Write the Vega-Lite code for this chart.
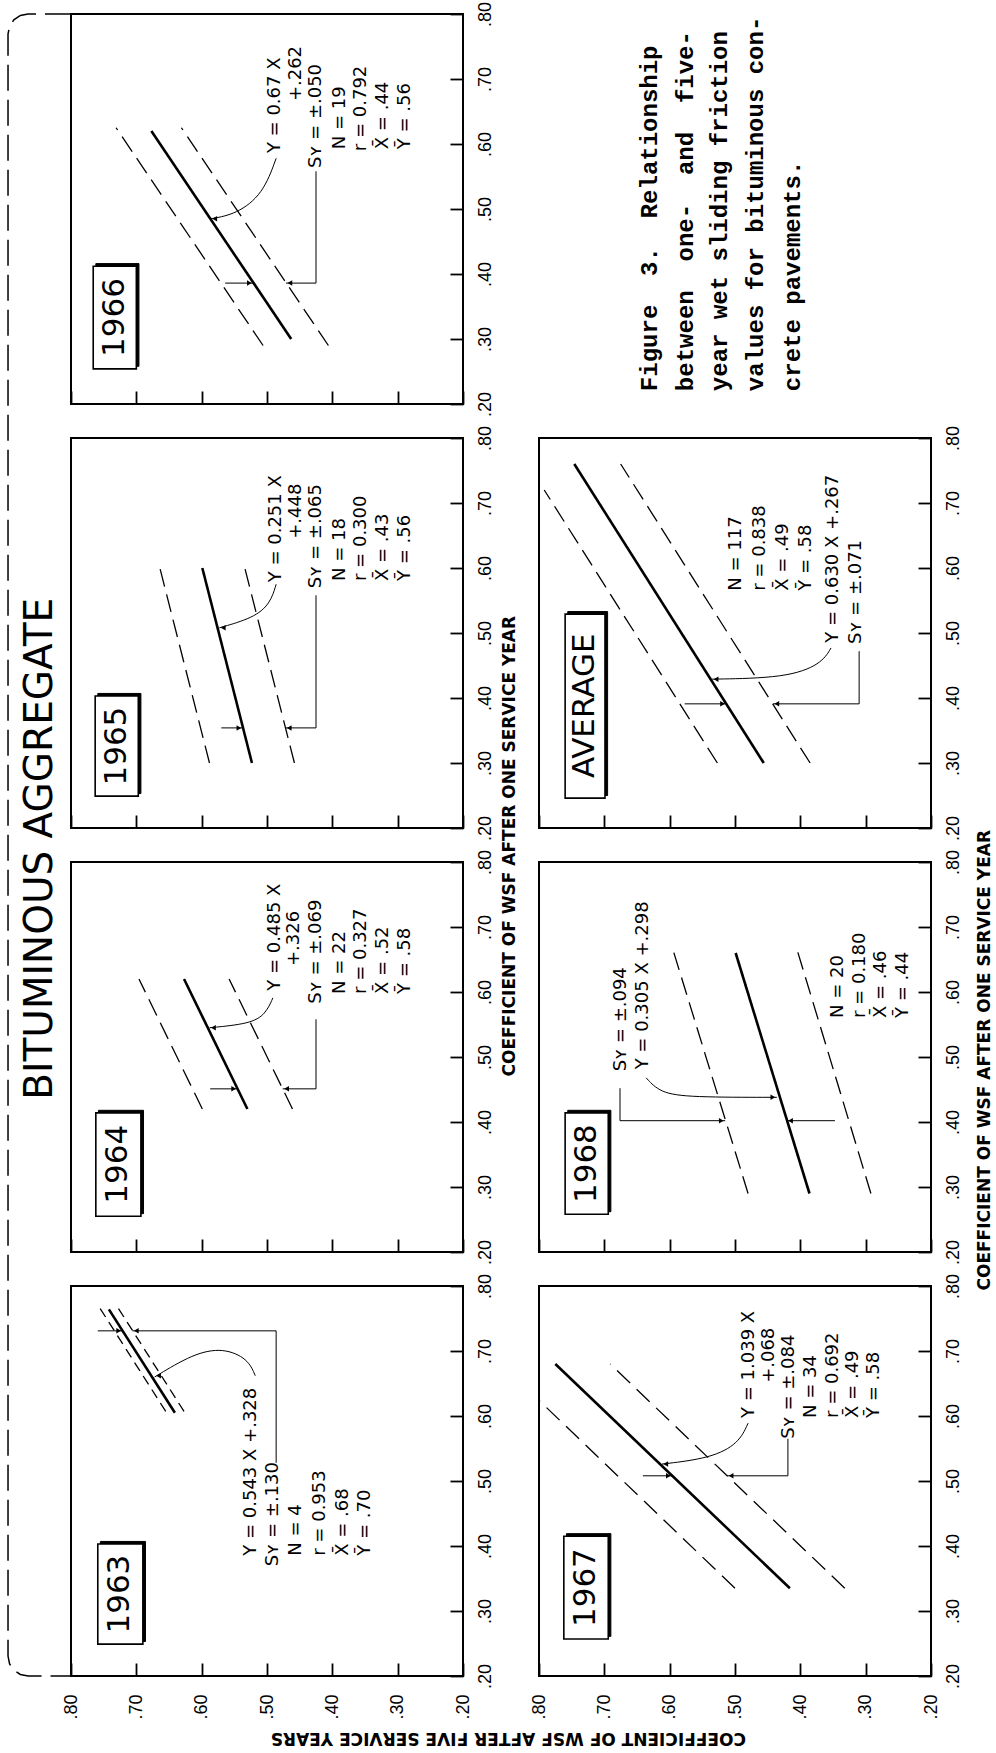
{
"$schema":"https://vega.github.io/schema/vega-lite/v6.json",
"padding":{"left":4,"top":0,"right":0,"bottom":0},
"columns":2,
"spacing":{"row":34,"column":76},
"bounds":"flush",
"datasets":{
"cap":[
{"t":"Figure\u00a0\u00a03.\u00a0\u00a0Relationship","cx":0.283,"cy":0.033},
{"t":"between\u00a0\u00a0one-\u00a0\u00a0and\u00a0\u00a0five-","cx":0.375,"cy":0.033},
{"t":"year wet sliding friction","cx":0.462,"cy":0.033},
{"t":"values for bituminous con-","cx":0.554,"cy":0.033},
{"t":"crete pavements.","cx":0.648,"cy":0.033}
],
"d":[
{"p":"1966","k":"fit","s":"f","i":0,"O":0.30,"F":0.463},
{"p":"1966","k":"fit","s":"f","i":1,"O":0.62,"F":0.677},
{"p":"1966","k":"dash","s":"hi","i":0,"O":0.29,"F":0.506},
{"p":"1966","k":"dash","s":"hi","i":1,"O":0.625,"F":0.731},
{"p":"1966","k":"dash","s":"lo","i":0,"O":0.29,"F":0.406},
{"p":"1966","k":"dash","s":"lo","i":1,"O":0.625,"F":0.631},
{"p":"1966","k":"curve","i":0,"F":0.486,"O":0.578},
{"p":"1966","k":"curve","i":1,"F":0.506,"O":0.523},
{"p":"1966","k":"curve","i":2,"F":0.547,"O":0.492},
{"p":"1966","k":"curve","i":3,"F":0.586,"O":0.485},
{"p":"1966","k":"thin","s":"br","i":0,"F":0.425,"O":0.558},
{"p":"1966","k":"thin","s":"br","i":1,"F":0.425,"O":0.386},
{"p":"1966","k":"thin","s":"br","i":2,"F":0.471,"O":0.386},
{"p":"1966","k":"thin","s":"ar","i":0,"F":0.564,"O":0.386},
{"p":"1966","k":"thin","s":"ar","i":1,"F":0.521,"O":0.386},
{"p":"1966","k":"ah","sh":"triangle-left","F":0.580,"O":0.485},
{"p":"1966","k":"ah","sh":"triangle-left","F":0.465,"O":0.386},
{"p":"1966","k":"ah","sh":"triangle-right","F":0.527,"O":0.386},
{"p":"1966","k":"shd","F":0.762,"F2":0.696,"O":0.416,"O2":0.258},
{"p":"1966","k":"box","F":0.766,"F2":0.700,"O":0.412,"O2":0.254},
{"p":"1966","k":"yr","t":"1966","F":0.733,"O":0.333},
{"p":"1966","k":"txt","t":"Y = 0.67 X","F":0.488,"O":0.586},
{"p":"1966","k":"txt","t":"+.262","F":0.456,"O":0.666},
{"p":"1966","k":"txt","t":"Sʏ = ±.050","F":0.425,"O":0.563},
{"p":"1966","k":"txt","t":"N = 19","F":0.388,"O":0.592},
{"p":"1966","k":"txt","t":"r = 0.792","F":0.356,"O":0.589},
{"p":"1966","k":"txt","t":"X̄ = .44","F":0.322,"O":0.592},
{"p":"1966","k":"txt","t":"Ȳ = .56","F":0.289,"O":0.592},
{"p":"1966","k":"brk","i":0,"F":0.800,"O":0.800},
{"p":"1966","k":"brk","i":1,"F":0.8658,"O":0.800},
{"p":"1966","k":"brk","i":2,"F":0.8775,"O":0.7977},
{"p":"1966","k":"brk","i":3,"F":0.8875,"O":0.7910},
{"p":"1966","k":"brk","i":4,"F":0.8941,"O":0.7810},
{"p":"1966","k":"brk","i":5,"F":0.8964,"O":0.7692},
{"p":"1966","k":"brk","i":6,"F":0.8964,"O":-1.7262},
{"p":"1966","k":"brk","i":7,"F":0.8941,"O":-1.7380},
{"p":"1966","k":"brk","i":8,"F":0.8875,"O":-1.7480},
{"p":"1966","k":"brk","i":9,"F":0.8775,"O":-1.7546},
{"p":"1966","k":"brk","i":10,"F":0.8658,"O":-1.7569},
{"p":"1966","k":"brk","i":11,"F":0.800,"O":-1.7569},

{"p":"1965","k":"fit","s":"f","i":0,"O":0.30,"F":0.523},
{"p":"1965","k":"fit","s":"f","i":1,"O":0.60,"F":0.599},
{"p":"1965","k":"dash","s":"hi","i":0,"O":0.30,"F":0.588},
{"p":"1965","k":"dash","s":"hi","i":1,"O":0.60,"F":0.664},
{"p":"1965","k":"dash","s":"lo","i":0,"O":0.30,"F":0.458},
{"p":"1965","k":"dash","s":"lo","i":1,"O":0.60,"F":0.534},
{"p":"1965","k":"curve","i":0,"F":0.486,"O":0.575},
{"p":"1965","k":"curve","i":1,"F":0.495,"O":0.545},
{"p":"1965","k":"curve","i":2,"F":0.521,"O":0.523},
{"p":"1965","k":"curve","i":3,"F":0.573,"O":0.508},
{"p":"1965","k":"thin","s":"br","i":0,"F":0.425,"O":0.558},
{"p":"1965","k":"thin","s":"br","i":1,"F":0.425,"O":0.354},
{"p":"1965","k":"thin","s":"br","i":2,"F":0.472,"O":0.354},
{"p":"1965","k":"thin","s":"ar","i":0,"F":0.570,"O":0.354},
{"p":"1965","k":"thin","s":"ar","i":1,"F":0.537,"O":0.354},
{"p":"1965","k":"ah","sh":"triangle-left","F":0.567,"O":0.508},
{"p":"1965","k":"ah","sh":"triangle-left","F":0.466,"O":0.354},
{"p":"1965","k":"ah","sh":"triangle-right","F":0.543,"O":0.354},
{"p":"1965","k":"shd","F":0.759,"F2":0.693,"O":0.407,"O2":0.253},
{"p":"1965","k":"box","F":0.763,"F2":0.697,"O":0.403,"O2":0.249},
{"p":"1965","k":"yr","t":"1965","F":0.730,"O":0.326},
{"p":"1965","k":"txt","t":"Y = 0.251 X","F":0.486,"O":0.578},
{"p":"1965","k":"txt","t":"+.448","F":0.456,"O":0.645},
{"p":"1965","k":"txt","t":"Sʏ = ±.065","F":0.425,"O":0.569},
{"p":"1965","k":"txt","t":"N = 18","F":0.388,"O":0.580},
{"p":"1965","k":"txt","t":"r = 0.300","F":0.356,"O":0.580},
{"p":"1965","k":"txt","t":"X̄ = .43","F":0.322,"O":0.580},
{"p":"1965","k":"txt","t":"Ȳ = .56","F":0.289,"O":0.580},
{"p":"1965","k":"big","t":"BITUMINOUS AGGREGATE","F":0.847,"O":0.168},
{"p":"1965","k":"ttl","t":"COEFFICIENT OF WSF AFTER ONE SERVICE YEAR","F":0.128,"O":0.172},

{"p":"1964","k":"fit","s":"f","i":0,"O":0.42,"F":0.530},
{"p":"1964","k":"fit","s":"f","i":1,"O":0.62,"F":0.627},
{"p":"1964","k":"dash","s":"hi","i":0,"O":0.42,"F":0.599},
{"p":"1964","k":"dash","s":"hi","i":1,"O":0.62,"F":0.696},
{"p":"1964","k":"dash","s":"lo","i":0,"O":0.42,"F":0.461},
{"p":"1964","k":"dash","s":"lo","i":1,"O":0.62,"F":0.558},
{"p":"1964","k":"curve","i":0,"F":0.491,"O":0.591},
{"p":"1964","k":"curve","i":1,"F":0.502,"O":0.566},
{"p":"1964","k":"curve","i":2,"F":0.526,"O":0.551},
{"p":"1964","k":"curve","i":3,"F":0.588,"O":0.545},
{"p":"1964","k":"thin","s":"br","i":0,"F":0.425,"O":0.558},
{"p":"1964","k":"thin","s":"br","i":1,"F":0.425,"O":0.451},
{"p":"1964","k":"thin","s":"br","i":2,"F":0.476,"O":0.451},
{"p":"1964","k":"thin","s":"ar","i":0,"F":0.587,"O":0.451},
{"p":"1964","k":"thin","s":"ar","i":1,"F":0.545,"O":0.451},
{"p":"1964","k":"ah","sh":"triangle-left","F":0.582,"O":0.545},
{"p":"1964","k":"ah","sh":"triangle-left","F":0.470,"O":0.451},
{"p":"1964","k":"ah","sh":"triangle-right","F":0.551,"O":0.451},
{"p":"1964","k":"shd","F":0.758,"F2":0.689,"O":0.418,"O2":0.259},
{"p":"1964","k":"box","F":0.762,"F2":0.693,"O":0.414,"O2":0.255},
{"p":"1964","k":"yr","t":"1964","F":0.728,"O":0.335},
{"p":"1964","k":"txt","t":"Y = 0.485 X","F":0.488,"O":0.602},
{"p":"1964","k":"txt","t":"+.326","F":0.458,"O":0.640},
{"p":"1964","k":"txt","t":"Sʏ = ±.069","F":0.425,"O":0.582},
{"p":"1964","k":"txt","t":"N = 22","F":0.388,"O":0.597},
{"p":"1964","k":"txt","t":"r = 0.327","F":0.356,"O":0.597},
{"p":"1964","k":"txt","t":"X̄ = .52","F":0.322,"O":0.597},
{"p":"1964","k":"txt","t":"Ȳ = .58","F":0.289,"O":0.597},

{"p":"1963","k":"fit","s":"f","i":0,"O":0.605,"F":0.641},
{"p":"1963","k":"fit","s":"f","i":1,"O":0.764,"F":0.742},
{"p":"1963","k":"dash","s":"hi","i":0,"O":0.607,"F":0.655},
{"p":"1963","k":"dash","s":"hi","i":1,"O":0.768,"F":0.757},
{"p":"1963","k":"dash","s":"lo","i":0,"O":0.607,"F":0.627},
{"p":"1963","k":"dash","s":"lo","i":1,"O":0.768,"F":0.729},
{"p":"1963","k":"curve","i":0,"F":0.518,"O":0.662},
{"p":"1963","k":"curve","i":1,"F":0.529,"O":0.688},
{"p":"1963","k":"curve","i":2,"F":0.567,"O":0.705},
{"p":"1963","k":"curve","i":3,"F":0.613,"O":0.696},
{"p":"1963","k":"curve","i":4,"F":0.672,"O":0.660},
{"p":"1963","k":"thin","s":"br","i":0,"F":0.486,"O":0.528},
{"p":"1963","k":"thin","s":"br","i":1,"F":0.486,"O":0.731},
{"p":"1963","k":"thin","s":"br","i":2,"F":0.706,"O":0.731},
{"p":"1963","k":"thin","s":"ar","i":0,"F":0.759,"O":0.731},
{"p":"1963","k":"thin","s":"ar","i":1,"F":0.721,"O":0.731},
{"p":"1963","k":"ah","sh":"triangle-left","F":0.666,"O":0.662},
{"p":"1963","k":"ah","sh":"triangle-left","F":0.700,"O":0.731},
{"p":"1963","k":"ah","sh":"triangle-right","F":0.727,"O":0.731},
{"p":"1963","k":"shd","F":0.755,"F2":0.686,"O":0.407,"O2":0.253},
{"p":"1963","k":"box","F":0.759,"F2":0.690,"O":0.403,"O2":0.249},
{"p":"1963","k":"yr","t":"1963","F":0.725,"O":0.326},
{"p":"1963","k":"txt","t":"Y = 0.543 X +.328","F":0.524,"O":0.385},
{"p":"1963","k":"txt","t":"Sʏ = ±.130","F":0.491,"O":0.369},
{"p":"1963","k":"txt","t":"N = 4","F":0.456,"O":0.385},
{"p":"1963","k":"txt","t":"r = 0.953","F":0.419,"O":0.385},
{"p":"1963","k":"txt","t":"X̄ = .68","F":0.384,"O":0.385},
{"p":"1963","k":"txt","t":"Ȳ = .70","F":0.350,"O":0.385},

{"p":"AVERAGE","k":"fit","s":"f","i":0,"O":0.30,"F":0.456},
{"p":"AVERAGE","k":"fit","s":"f","i":1,"O":0.76,"F":0.746},
{"p":"AVERAGE","k":"dash","s":"hi","i":0,"O":0.30,"F":0.527},
{"p":"AVERAGE","k":"dash","s":"hi","i":1,"O":0.72,"F":0.792},
{"p":"AVERAGE","k":"dash","s":"lo","i":0,"O":0.30,"F":0.385},
{"p":"AVERAGE","k":"dash","s":"lo","i":1,"O":0.76,"F":0.675},
{"p":"AVERAGE","k":"curve","i":0,"F":0.353,"O":0.477},
{"p":"AVERAGE","k":"curve","i":1,"F":0.368,"O":0.452},
{"p":"AVERAGE","k":"curve","i":2,"F":0.422,"O":0.431},
{"p":"AVERAGE","k":"curve","i":3,"F":0.535,"O":0.429},
{"p":"AVERAGE","k":"thin","s":"br","i":0,"F":0.310,"O":0.472},
{"p":"AVERAGE","k":"thin","s":"br","i":1,"F":0.310,"O":0.391},
{"p":"AVERAGE","k":"thin","s":"br","i":2,"F":0.442,"O":0.391},
{"p":"AVERAGE","k":"thin","s":"ar","i":0,"F":0.577,"O":0.391},
{"p":"AVERAGE","k":"thin","s":"ar","i":1,"F":0.513,"O":0.391},
{"p":"AVERAGE","k":"ah","sh":"triangle-left","F":0.529,"O":0.429},
{"p":"AVERAGE","k":"ah","sh":"triangle-left","F":0.436,"O":0.391},
{"p":"AVERAGE","k":"ah","sh":"triangle-right","F":0.519,"O":0.391},
{"p":"AVERAGE","k":"shd","F":0.756,"F2":0.695,"O":0.533,"O2":0.250},
{"p":"AVERAGE","k":"box","F":0.760,"F2":0.699,"O":0.529,"O2":0.246},
{"p":"AVERAGE","k":"yr","t":"AVERAGE","F":0.730,"O":0.388},
{"p":"AVERAGE","k":"txt","t":"N = 117","F":0.498,"O":0.565},
{"p":"AVERAGE","k":"txt","t":"r = 0.838","F":0.462,"O":0.565},
{"p":"AVERAGE","k":"txt","t":"X̄ = .49","F":0.426,"O":0.565},
{"p":"AVERAGE","k":"txt","t":"Ȳ = .58","F":0.391,"O":0.565},
{"p":"AVERAGE","k":"txt","t":"Y = 0.630 X +.267","F":0.350,"O":0.485},
{"p":"AVERAGE","k":"txt","t":"Sʏ = ±.071","F":0.315,"O":0.483},

{"p":"1968","k":"fit","s":"f","i":0,"O":0.29,"F":0.386},
{"p":"1968","k":"fit","s":"f","i":1,"O":0.66,"F":0.499},
{"p":"1968","k":"dash","s":"hi","i":0,"O":0.29,"F":0.480},
{"p":"1968","k":"dash","s":"hi","i":1,"O":0.665,"F":0.595},
{"p":"1968","k":"dash","s":"lo","i":0,"O":0.29,"F":0.292},
{"p":"1968","k":"dash","s":"lo","i":1,"O":0.665,"F":0.405},
{"p":"1968","k":"curve","i":0,"F":0.636,"O":0.468},
{"p":"1968","k":"curve","i":1,"F":0.615,"O":0.445},
{"p":"1968","k":"curve","i":2,"F":0.569,"O":0.438},
{"p":"1968","k":"curve","i":3,"F":0.436,"O":0.438},
{"p":"1968","k":"thin","s":"br","i":0,"F":0.676,"O":0.452},
{"p":"1968","k":"thin","s":"br","i":1,"F":0.676,"O":0.402},
{"p":"1968","k":"thin","s":"br","i":2,"F":0.515,"O":0.402},
{"p":"1968","k":"thin","s":"ar","i":0,"F":0.347,"O":0.402},
{"p":"1968","k":"thin","s":"ar","i":1,"F":0.421,"O":0.402},
{"p":"1968","k":"ah","sh":"triangle-right","F":0.442,"O":0.438},
{"p":"1968","k":"ah","sh":"triangle-right","F":0.521,"O":0.402},
{"p":"1968","k":"ah","sh":"triangle-left","F":0.415,"O":0.402},
{"p":"1968","k":"shd","F":0.756,"F2":0.690,"O":0.418,"O2":0.262},
{"p":"1968","k":"box","F":0.760,"F2":0.694,"O":0.414,"O2":0.258},
{"p":"1968","k":"yr","t":"1968","F":0.727,"O":0.336},
{"p":"1968","k":"txt","t":"Sʏ = ±.094","F":0.674,"O":0.478},
{"p":"1968","k":"txt","t":"Y = 0.305 X +.298","F":0.641,"O":0.481},
{"p":"1968","k":"txt","t":"N = 20","F":0.342,"O":0.560},
{"p":"1968","k":"txt","t":"r = 0.180","F":0.309,"O":0.560},
{"p":"1968","k":"txt","t":"X̄ = .46","F":0.277,"O":0.560},
{"p":"1968","k":"txt","t":"Ȳ = .44","F":0.243,"O":0.560},
{"p":"1968","k":"ttl","t":"COEFFICIENT OF WSF AFTER ONE SERVICE YEAR","F":0.117,"O":0.495},

{"p":"1967","k":"fit","s":"f","i":0,"O":0.335,"F":0.416},
{"p":"1967","k":"fit","s":"f","i":1,"O":0.68,"F":0.775},
{"p":"1967","k":"dash","s":"hi","i":0,"O":0.335,"F":0.500},
{"p":"1967","k":"dash","s":"hi","i":1,"O":0.624,"F":0.800},
{"p":"1967","k":"dash","s":"lo","i":0,"O":0.335,"F":0.332},
{"p":"1967","k":"dash","s":"lo","i":1,"O":0.68,"F":0.691},
{"p":"1967","k":"curve","i":0,"F":0.480,"O":0.589},
{"p":"1967","k":"curve","i":1,"F":0.494,"O":0.558},
{"p":"1967","k":"curve","i":2,"F":0.537,"O":0.535},
{"p":"1967","k":"curve","i":3,"F":0.612,"O":0.526},
{"p":"1967","k":"thin","s":"br","i":0,"F":0.419,"O":0.565},
{"p":"1967","k":"thin","s":"br","i":1,"F":0.419,"O":0.508},
{"p":"1967","k":"thin","s":"br","i":2,"F":0.512,"O":0.508},
{"p":"1967","k":"thin","s":"ar","i":0,"F":0.641,"O":0.508},
{"p":"1967","k":"thin","s":"ar","i":1,"F":0.596,"O":0.508},
{"p":"1967","k":"ah","sh":"triangle-left","F":0.606,"O":0.526},
{"p":"1967","k":"ah","sh":"triangle-left","F":0.506,"O":0.508},
{"p":"1967","k":"ah","sh":"triangle-right","F":0.602,"O":0.508},
{"p":"1967","k":"shd","F":0.758,"F2":0.690,"O":0.419,"O2":0.261},
{"p":"1967","k":"box","F":0.762,"F2":0.694,"O":0.415,"O2":0.257},
{"p":"1967","k":"yr","t":"1967","F":0.728,"O":0.336},
{"p":"1967","k":"txt","t":"Y = 1.039 X","F":0.479,"O":0.597},
{"p":"1967","k":"txt","t":"+.068","F":0.448,"O":0.651},
{"p":"1967","k":"txt","t":"Sʏ = ±.084","F":0.417,"O":0.565},
{"p":"1967","k":"txt","t":"N = 34","F":0.384,"O":0.597},
{"p":"1967","k":"txt","t":"r = 0.692","F":0.350,"O":0.597},
{"p":"1967","k":"txt","t":"X̄ = .49","F":0.319,"O":0.597},
{"p":"1967","k":"txt","t":"Ȳ = .58","F":0.287,"O":0.597},
{"p":"1967","k":"ttl180","t":"COEFFICIENT OF WSF AFTER FIVE SERVICE YEARS","F":0.847,"O":0.105}
]
},
"concat":[
{"width":392,"height":390,"data":{"name":"d"},"transform":[{"filter":"datum.p=='1966'"}],
 "encoding":{"x":{"field":"F","type":"quantitative","scale":{"domain":[0.2,0.8],"reverse":true,"nice":false,"zero":false},"axis":{"values":[0.2,0.3,0.4,0.5,0.6,0.7,0.8],"labels":false,"title":null}},
  "y":{"field":"O","type":"quantitative","scale":{"domain":[0.2,0.8],"nice":false,"zero":false},"axis":{"orient":"right","values":[0.2,0.3,0.4,0.5,0.6,0.7,0.8],"title":null,"labelExpr":"replace(format(datum.value,'.2f'),'0.','.')"}}},
 "layer":[
  {"transform":[{"filter":"datum.k=='brk'"}],"mark":{"type":"line","color":"black","strokeWidth":1.5,"strokeDash":[26,9]},"encoding":{"order":{"field":"i"}}},
  {"transform":[{"filter":"datum.k=='fit'"}],"mark":{"type":"line","color":"black","strokeWidth":2.6},"encoding":{"detail":{"field":"s"},"order":{"field":"i"}}},
  {"transform":[{"filter":"datum.k=='dash'"}],"mark":{"type":"line","color":"black","strokeWidth":1.3,"strokeDash":[18,8]},"encoding":{"detail":{"field":"s"},"order":{"field":"i"}}},
  {"transform":[{"filter":"datum.k=='curve'"}],"mark":{"type":"line","color":"black","strokeWidth":1,"interpolate":"basis"},"encoding":{"order":{"field":"i"}}},
  {"transform":[{"filter":"datum.k=='thin'"}],"mark":{"type":"line","color":"black","strokeWidth":1},"encoding":{"detail":{"field":"s"},"order":{"field":"i"}}},
  {"transform":[{"filter":"datum.k=='ah'"}],"mark":{"type":"point","filled":true,"color":"black","opacity":1,"size":30},"encoding":{"shape":{"field":"sh","type":"nominal","scale":null}}},
  {"transform":[{"filter":"datum.k=='shd'"}],"mark":{"type":"rect","fill":"black","stroke":"black","strokeWidth":1}, "encoding":{"x2":{"field":"F2"},"y2":{"field":"O2"}}},
  {"transform":[{"filter":"datum.k=='box'"}],"mark":{"type":"rect","fill":"white","stroke":"black","strokeWidth":1.6},"encoding":{"x2":{"field":"F2"},"y2":{"field":"O2"}}},
  {"transform":[{"filter":"datum.k=='yr'"}],"mark":{"type":"text","color":"black","angle":270,"fontSize":31,"font":"DejaVu Sans","align":"center","baseline":"middle"},"encoding":{"text":{"field":"t"}}},
  {"transform":[{"filter":"datum.k=='txt'"}],"mark":{"type":"text","color":"black","angle":270,"fontSize":18,"font":"DejaVu Sans","align":"left","baseline":"middle"},"encoding":{"text":{"field":"t"}}}
 ]},
{"width":392,"height":390,"view":{"stroke":null},"data":{"name":"cap"},
 "mark":{"type":"text","color":"black","angle":270,"align":"left","baseline":"middle","font":"Liberation Mono","fontWeight":"bold","fontSize":24},
 "encoding":{"x":{"field":"cx","type":"quantitative","scale":{"domain":[0,1]},"axis":null},"y":{"field":"cy","type":"quantitative","scale":{"domain":[0,1]},"axis":null},"text":{"field":"t"}}},
{"width":392,"height":390,"data":{"name":"d"},"transform":[{"filter":"datum.p=='1965'"}],
 "encoding":{"x":{"field":"F","type":"quantitative","scale":{"domain":[0.2,0.8],"reverse":true,"nice":false,"zero":false},"axis":{"values":[0.2,0.3,0.4,0.5,0.6,0.7,0.8],"labels":false,"title":null}},
  "y":{"field":"O","type":"quantitative","scale":{"domain":[0.2,0.8],"nice":false,"zero":false},"axis":{"orient":"right","values":[0.2,0.3,0.4,0.5,0.6,0.7,0.8],"title":null,"labelExpr":"replace(format(datum.value,'.2f'),'0.','.')"}}},
 "layer":[
  {"transform":[{"filter":"datum.k=='fit'"}],"mark":{"type":"line","color":"black","strokeWidth":2.6},"encoding":{"detail":{"field":"s"},"order":{"field":"i"}}},
  {"transform":[{"filter":"datum.k=='dash'"}],"mark":{"type":"line","color":"black","strokeWidth":1.3,"strokeDash":[18,8]},"encoding":{"detail":{"field":"s"},"order":{"field":"i"}}},
  {"transform":[{"filter":"datum.k=='curve'"}],"mark":{"type":"line","color":"black","strokeWidth":1,"interpolate":"basis"},"encoding":{"order":{"field":"i"}}},
  {"transform":[{"filter":"datum.k=='thin'"}],"mark":{"type":"line","color":"black","strokeWidth":1},"encoding":{"detail":{"field":"s"},"order":{"field":"i"}}},
  {"transform":[{"filter":"datum.k=='ah'"}],"mark":{"type":"point","filled":true,"color":"black","opacity":1,"size":30},"encoding":{"shape":{"field":"sh","type":"nominal","scale":null}}},
  {"transform":[{"filter":"datum.k=='shd'"}],"mark":{"type":"rect","fill":"black","stroke":"black","strokeWidth":1}, "encoding":{"x2":{"field":"F2"},"y2":{"field":"O2"}}},
  {"transform":[{"filter":"datum.k=='box'"}],"mark":{"type":"rect","fill":"white","stroke":"black","strokeWidth":1.6},"encoding":{"x2":{"field":"F2"},"y2":{"field":"O2"}}},
  {"transform":[{"filter":"datum.k=='yr'"}],"mark":{"type":"text","color":"black","angle":270,"fontSize":31,"font":"DejaVu Sans","align":"center","baseline":"middle"},"encoding":{"text":{"field":"t"}}},
  {"transform":[{"filter":"datum.k=='txt'"}],"mark":{"type":"text","color":"black","angle":270,"fontSize":18,"font":"DejaVu Sans","align":"left","baseline":"middle"},"encoding":{"text":{"field":"t"}}},
  {"transform":[{"filter":"datum.k=='big'"}],"mark":{"type":"text","color":"black","angle":270,"fontSize":39,"font":"DejaVu Sans","align":"center","baseline":"middle"},"encoding":{"text":{"field":"t"}}},
  {"transform":[{"filter":"datum.k=='ttl'"}],"mark":{"type":"text","color":"black","angle":270,"fontSize":17,"fontWeight":"bold","font":"DejaVu Sans","align":"center","baseline":"middle"},"encoding":{"text":{"field":"t"}}}
 ]},
{"width":392,"height":390,"data":{"name":"d"},"transform":[{"filter":"datum.p=='AVERAGE'"}],
 "encoding":{"x":{"field":"F","type":"quantitative","scale":{"domain":[0.2,0.8],"reverse":true,"nice":false,"zero":false},"axis":{"values":[0.2,0.3,0.4,0.5,0.6,0.7,0.8],"labels":false,"title":null}},
  "y":{"field":"O","type":"quantitative","scale":{"domain":[0.2,0.8],"nice":false,"zero":false},"axis":{"orient":"right","values":[0.2,0.3,0.4,0.5,0.6,0.7,0.8],"title":null,"labelExpr":"replace(format(datum.value,'.2f'),'0.','.')"}}},
 "layer":[
  {"transform":[{"filter":"datum.k=='fit'"}],"mark":{"type":"line","color":"black","strokeWidth":2.6},"encoding":{"detail":{"field":"s"},"order":{"field":"i"}}},
  {"transform":[{"filter":"datum.k=='dash'"}],"mark":{"type":"line","color":"black","strokeWidth":1.3,"strokeDash":[18,8]},"encoding":{"detail":{"field":"s"},"order":{"field":"i"}}},
  {"transform":[{"filter":"datum.k=='curve'"}],"mark":{"type":"line","color":"black","strokeWidth":1,"interpolate":"basis"},"encoding":{"order":{"field":"i"}}},
  {"transform":[{"filter":"datum.k=='thin'"}],"mark":{"type":"line","color":"black","strokeWidth":1},"encoding":{"detail":{"field":"s"},"order":{"field":"i"}}},
  {"transform":[{"filter":"datum.k=='ah'"}],"mark":{"type":"point","filled":true,"color":"black","opacity":1,"size":30},"encoding":{"shape":{"field":"sh","type":"nominal","scale":null}}},
  {"transform":[{"filter":"datum.k=='shd'"}],"mark":{"type":"rect","fill":"black","stroke":"black","strokeWidth":1}, "encoding":{"x2":{"field":"F2"},"y2":{"field":"O2"}}},
  {"transform":[{"filter":"datum.k=='box'"}],"mark":{"type":"rect","fill":"white","stroke":"black","strokeWidth":1.6},"encoding":{"x2":{"field":"F2"},"y2":{"field":"O2"}}},
  {"transform":[{"filter":"datum.k=='yr'"}],"mark":{"type":"text","color":"black","angle":270,"fontSize":31,"font":"DejaVu Sans","align":"center","baseline":"middle"},"encoding":{"text":{"field":"t"}}},
  {"transform":[{"filter":"datum.k=='txt'"}],"mark":{"type":"text","color":"black","angle":270,"fontSize":18,"font":"DejaVu Sans","align":"left","baseline":"middle"},"encoding":{"text":{"field":"t"}}}
 ]},
{"width":392,"height":390,"data":{"name":"d"},"transform":[{"filter":"datum.p=='1964'"}],
 "encoding":{"x":{"field":"F","type":"quantitative","scale":{"domain":[0.2,0.8],"reverse":true,"nice":false,"zero":false},"axis":{"values":[0.2,0.3,0.4,0.5,0.6,0.7,0.8],"labels":false,"title":null}},
  "y":{"field":"O","type":"quantitative","scale":{"domain":[0.2,0.8],"nice":false,"zero":false},"axis":{"orient":"right","values":[0.2,0.3,0.4,0.5,0.6,0.7,0.8],"title":null,"labelExpr":"replace(format(datum.value,'.2f'),'0.','.')"}}},
 "layer":[
  {"transform":[{"filter":"datum.k=='fit'"}],"mark":{"type":"line","color":"black","strokeWidth":2.6},"encoding":{"detail":{"field":"s"},"order":{"field":"i"}}},
  {"transform":[{"filter":"datum.k=='dash'"}],"mark":{"type":"line","color":"black","strokeWidth":1.3,"strokeDash":[18,8]},"encoding":{"detail":{"field":"s"},"order":{"field":"i"}}},
  {"transform":[{"filter":"datum.k=='curve'"}],"mark":{"type":"line","color":"black","strokeWidth":1,"interpolate":"basis"},"encoding":{"order":{"field":"i"}}},
  {"transform":[{"filter":"datum.k=='thin'"}],"mark":{"type":"line","color":"black","strokeWidth":1},"encoding":{"detail":{"field":"s"},"order":{"field":"i"}}},
  {"transform":[{"filter":"datum.k=='ah'"}],"mark":{"type":"point","filled":true,"color":"black","opacity":1,"size":30},"encoding":{"shape":{"field":"sh","type":"nominal","scale":null}}},
  {"transform":[{"filter":"datum.k=='shd'"}],"mark":{"type":"rect","fill":"black","stroke":"black","strokeWidth":1}, "encoding":{"x2":{"field":"F2"},"y2":{"field":"O2"}}},
  {"transform":[{"filter":"datum.k=='box'"}],"mark":{"type":"rect","fill":"white","stroke":"black","strokeWidth":1.6},"encoding":{"x2":{"field":"F2"},"y2":{"field":"O2"}}},
  {"transform":[{"filter":"datum.k=='yr'"}],"mark":{"type":"text","color":"black","angle":270,"fontSize":31,"font":"DejaVu Sans","align":"center","baseline":"middle"},"encoding":{"text":{"field":"t"}}},
  {"transform":[{"filter":"datum.k=='txt'"}],"mark":{"type":"text","color":"black","angle":270,"fontSize":18,"font":"DejaVu Sans","align":"left","baseline":"middle"},"encoding":{"text":{"field":"t"}}}
 ]},
{"width":392,"height":390,"data":{"name":"d"},"transform":[{"filter":"datum.p=='1968'"}],
 "encoding":{"x":{"field":"F","type":"quantitative","scale":{"domain":[0.2,0.8],"reverse":true,"nice":false,"zero":false},"axis":{"values":[0.2,0.3,0.4,0.5,0.6,0.7,0.8],"labels":false,"title":null}},
  "y":{"field":"O","type":"quantitative","scale":{"domain":[0.2,0.8],"nice":false,"zero":false},"axis":{"orient":"right","values":[0.2,0.3,0.4,0.5,0.6,0.7,0.8],"title":null,"labelExpr":"replace(format(datum.value,'.2f'),'0.','.')"}}},
 "layer":[
  {"transform":[{"filter":"datum.k=='fit'"}],"mark":{"type":"line","color":"black","strokeWidth":2.6},"encoding":{"detail":{"field":"s"},"order":{"field":"i"}}},
  {"transform":[{"filter":"datum.k=='dash'"}],"mark":{"type":"line","color":"black","strokeWidth":1.3,"strokeDash":[18,8]},"encoding":{"detail":{"field":"s"},"order":{"field":"i"}}},
  {"transform":[{"filter":"datum.k=='curve'"}],"mark":{"type":"line","color":"black","strokeWidth":1,"interpolate":"basis"},"encoding":{"order":{"field":"i"}}},
  {"transform":[{"filter":"datum.k=='thin'"}],"mark":{"type":"line","color":"black","strokeWidth":1},"encoding":{"detail":{"field":"s"},"order":{"field":"i"}}},
  {"transform":[{"filter":"datum.k=='ah'"}],"mark":{"type":"point","filled":true,"color":"black","opacity":1,"size":30},"encoding":{"shape":{"field":"sh","type":"nominal","scale":null}}},
  {"transform":[{"filter":"datum.k=='shd'"}],"mark":{"type":"rect","fill":"black","stroke":"black","strokeWidth":1}, "encoding":{"x2":{"field":"F2"},"y2":{"field":"O2"}}},
  {"transform":[{"filter":"datum.k=='box'"}],"mark":{"type":"rect","fill":"white","stroke":"black","strokeWidth":1.6},"encoding":{"x2":{"field":"F2"},"y2":{"field":"O2"}}},
  {"transform":[{"filter":"datum.k=='yr'"}],"mark":{"type":"text","color":"black","angle":270,"fontSize":31,"font":"DejaVu Sans","align":"center","baseline":"middle"},"encoding":{"text":{"field":"t"}}},
  {"transform":[{"filter":"datum.k=='txt'"}],"mark":{"type":"text","color":"black","angle":270,"fontSize":18,"font":"DejaVu Sans","align":"left","baseline":"middle"},"encoding":{"text":{"field":"t"}}},
  {"transform":[{"filter":"datum.k=='ttl'"}],"mark":{"type":"text","color":"black","angle":270,"fontSize":17,"fontWeight":"bold","font":"DejaVu Sans","align":"center","baseline":"middle"},"encoding":{"text":{"field":"t"}}}
 ]},
{"width":392,"height":390,"data":{"name":"d"},"transform":[{"filter":"datum.p=='1963'"}],
 "encoding":{"x":{"field":"F","type":"quantitative","scale":{"domain":[0.2,0.8],"reverse":true,"nice":false,"zero":false},"axis":{"values":[0.2,0.3,0.4,0.5,0.6,0.7,0.8],"labels":true,"title":null,"labelExpr":"replace(format(datum.value,'.2f'),'0.','.')"}},
  "y":{"field":"O","type":"quantitative","scale":{"domain":[0.2,0.8],"nice":false,"zero":false},"axis":{"orient":"right","values":[0.2,0.3,0.4,0.5,0.6,0.7,0.8],"title":null,"labelExpr":"replace(format(datum.value,'.2f'),'0.','.')"}}},
 "layer":[
  {"transform":[{"filter":"datum.k=='fit'"}],"mark":{"type":"line","color":"black","strokeWidth":2.6},"encoding":{"detail":{"field":"s"},"order":{"field":"i"}}},
  {"transform":[{"filter":"datum.k=='dash'"}],"mark":{"type":"line","color":"black","strokeWidth":1.3,"strokeDash":[10,6]},"encoding":{"detail":{"field":"s"},"order":{"field":"i"}}},
  {"transform":[{"filter":"datum.k=='curve'"}],"mark":{"type":"line","color":"black","strokeWidth":1,"interpolate":"basis"},"encoding":{"order":{"field":"i"}}},
  {"transform":[{"filter":"datum.k=='thin'"}],"mark":{"type":"line","color":"black","strokeWidth":1},"encoding":{"detail":{"field":"s"},"order":{"field":"i"}}},
  {"transform":[{"filter":"datum.k=='ah'"}],"mark":{"type":"point","filled":true,"color":"black","opacity":1,"size":30},"encoding":{"shape":{"field":"sh","type":"nominal","scale":null}}},
  {"transform":[{"filter":"datum.k=='shd'"}],"mark":{"type":"rect","fill":"black","stroke":"black","strokeWidth":1}, "encoding":{"x2":{"field":"F2"},"y2":{"field":"O2"}}},
  {"transform":[{"filter":"datum.k=='box'"}],"mark":{"type":"rect","fill":"white","stroke":"black","strokeWidth":1.6},"encoding":{"x2":{"field":"F2"},"y2":{"field":"O2"}}},
  {"transform":[{"filter":"datum.k=='yr'"}],"mark":{"type":"text","color":"black","angle":270,"fontSize":31,"font":"DejaVu Sans","align":"center","baseline":"middle"},"encoding":{"text":{"field":"t"}}},
  {"transform":[{"filter":"datum.k=='txt'"}],"mark":{"type":"text","color":"black","angle":270,"fontSize":18,"font":"DejaVu Sans","align":"left","baseline":"middle"},"encoding":{"text":{"field":"t"}}}
 ]},
{"width":392,"height":390,"data":{"name":"d"},"transform":[{"filter":"datum.p=='1967'"}],
 "encoding":{"x":{"field":"F","type":"quantitative","scale":{"domain":[0.2,0.8],"reverse":true,"nice":false,"zero":false},"axis":{"values":[0.2,0.3,0.4,0.5,0.6,0.7,0.8],"labels":true,"title":null,"labelExpr":"replace(format(datum.value,'.2f'),'0.','.')"}},
  "y":{"field":"O","type":"quantitative","scale":{"domain":[0.2,0.8],"nice":false,"zero":false},"axis":{"orient":"right","values":[0.2,0.3,0.4,0.5,0.6,0.7,0.8],"title":null,"labelExpr":"replace(format(datum.value,'.2f'),'0.','.')"}}},
 "layer":[
  {"transform":[{"filter":"datum.k=='fit'"}],"mark":{"type":"line","color":"black","strokeWidth":2.6},"encoding":{"detail":{"field":"s"},"order":{"field":"i"}}},
  {"transform":[{"filter":"datum.k=='dash'"}],"mark":{"type":"line","color":"black","strokeWidth":1.3,"strokeDash":[18,9]},"encoding":{"detail":{"field":"s"},"order":{"field":"i"}}},
  {"transform":[{"filter":"datum.k=='curve'"}],"mark":{"type":"line","color":"black","strokeWidth":1,"interpolate":"basis"},"encoding":{"order":{"field":"i"}}},
  {"transform":[{"filter":"datum.k=='thin'"}],"mark":{"type":"line","color":"black","strokeWidth":1},"encoding":{"detail":{"field":"s"},"order":{"field":"i"}}},
  {"transform":[{"filter":"datum.k=='ah'"}],"mark":{"type":"point","filled":true,"color":"black","opacity":1,"size":30},"encoding":{"shape":{"field":"sh","type":"nominal","scale":null}}},
  {"transform":[{"filter":"datum.k=='shd'"}],"mark":{"type":"rect","fill":"black","stroke":"black","strokeWidth":1}, "encoding":{"x2":{"field":"F2"},"y2":{"field":"O2"}}},
  {"transform":[{"filter":"datum.k=='box'"}],"mark":{"type":"rect","fill":"white","stroke":"black","strokeWidth":1.6},"encoding":{"x2":{"field":"F2"},"y2":{"field":"O2"}}},
  {"transform":[{"filter":"datum.k=='yr'"}],"mark":{"type":"text","color":"black","angle":270,"fontSize":31,"font":"DejaVu Sans","align":"center","baseline":"middle"},"encoding":{"text":{"field":"t"}}},
  {"transform":[{"filter":"datum.k=='txt'"}],"mark":{"type":"text","color":"black","angle":270,"fontSize":18,"font":"DejaVu Sans","align":"left","baseline":"middle"},"encoding":{"text":{"field":"t"}}},
  {"transform":[{"filter":"datum.k=='ttl180'"}],"mark":{"type":"text","color":"black","angle":180,"fontSize":17,"fontWeight":"bold","font":"DejaVu Sans","align":"center","baseline":"middle"},"encoding":{"text":{"field":"t"}}}
 ]}
],
"config":{
 "view":{"stroke":"black","strokeWidth":2},
 "axis":{"tickSize":-13,"tickWidth":1.8,"tickColor":"black","domain":false,"grid":false,"labelColor":"black","labelFont":"Liberation Sans","labelFontSize":18,"labelFlush":false,"labelOverlap":false,"labelBound":false},
 "axisBottom":{"labelAngle":270,"labelAlign":"right","labelBaseline":"middle","labelPadding":31},
 "axisRight":{"labelAngle":270,"labelAlign":"center","labelBaseline":"top","labelPadding":26}
}
}
